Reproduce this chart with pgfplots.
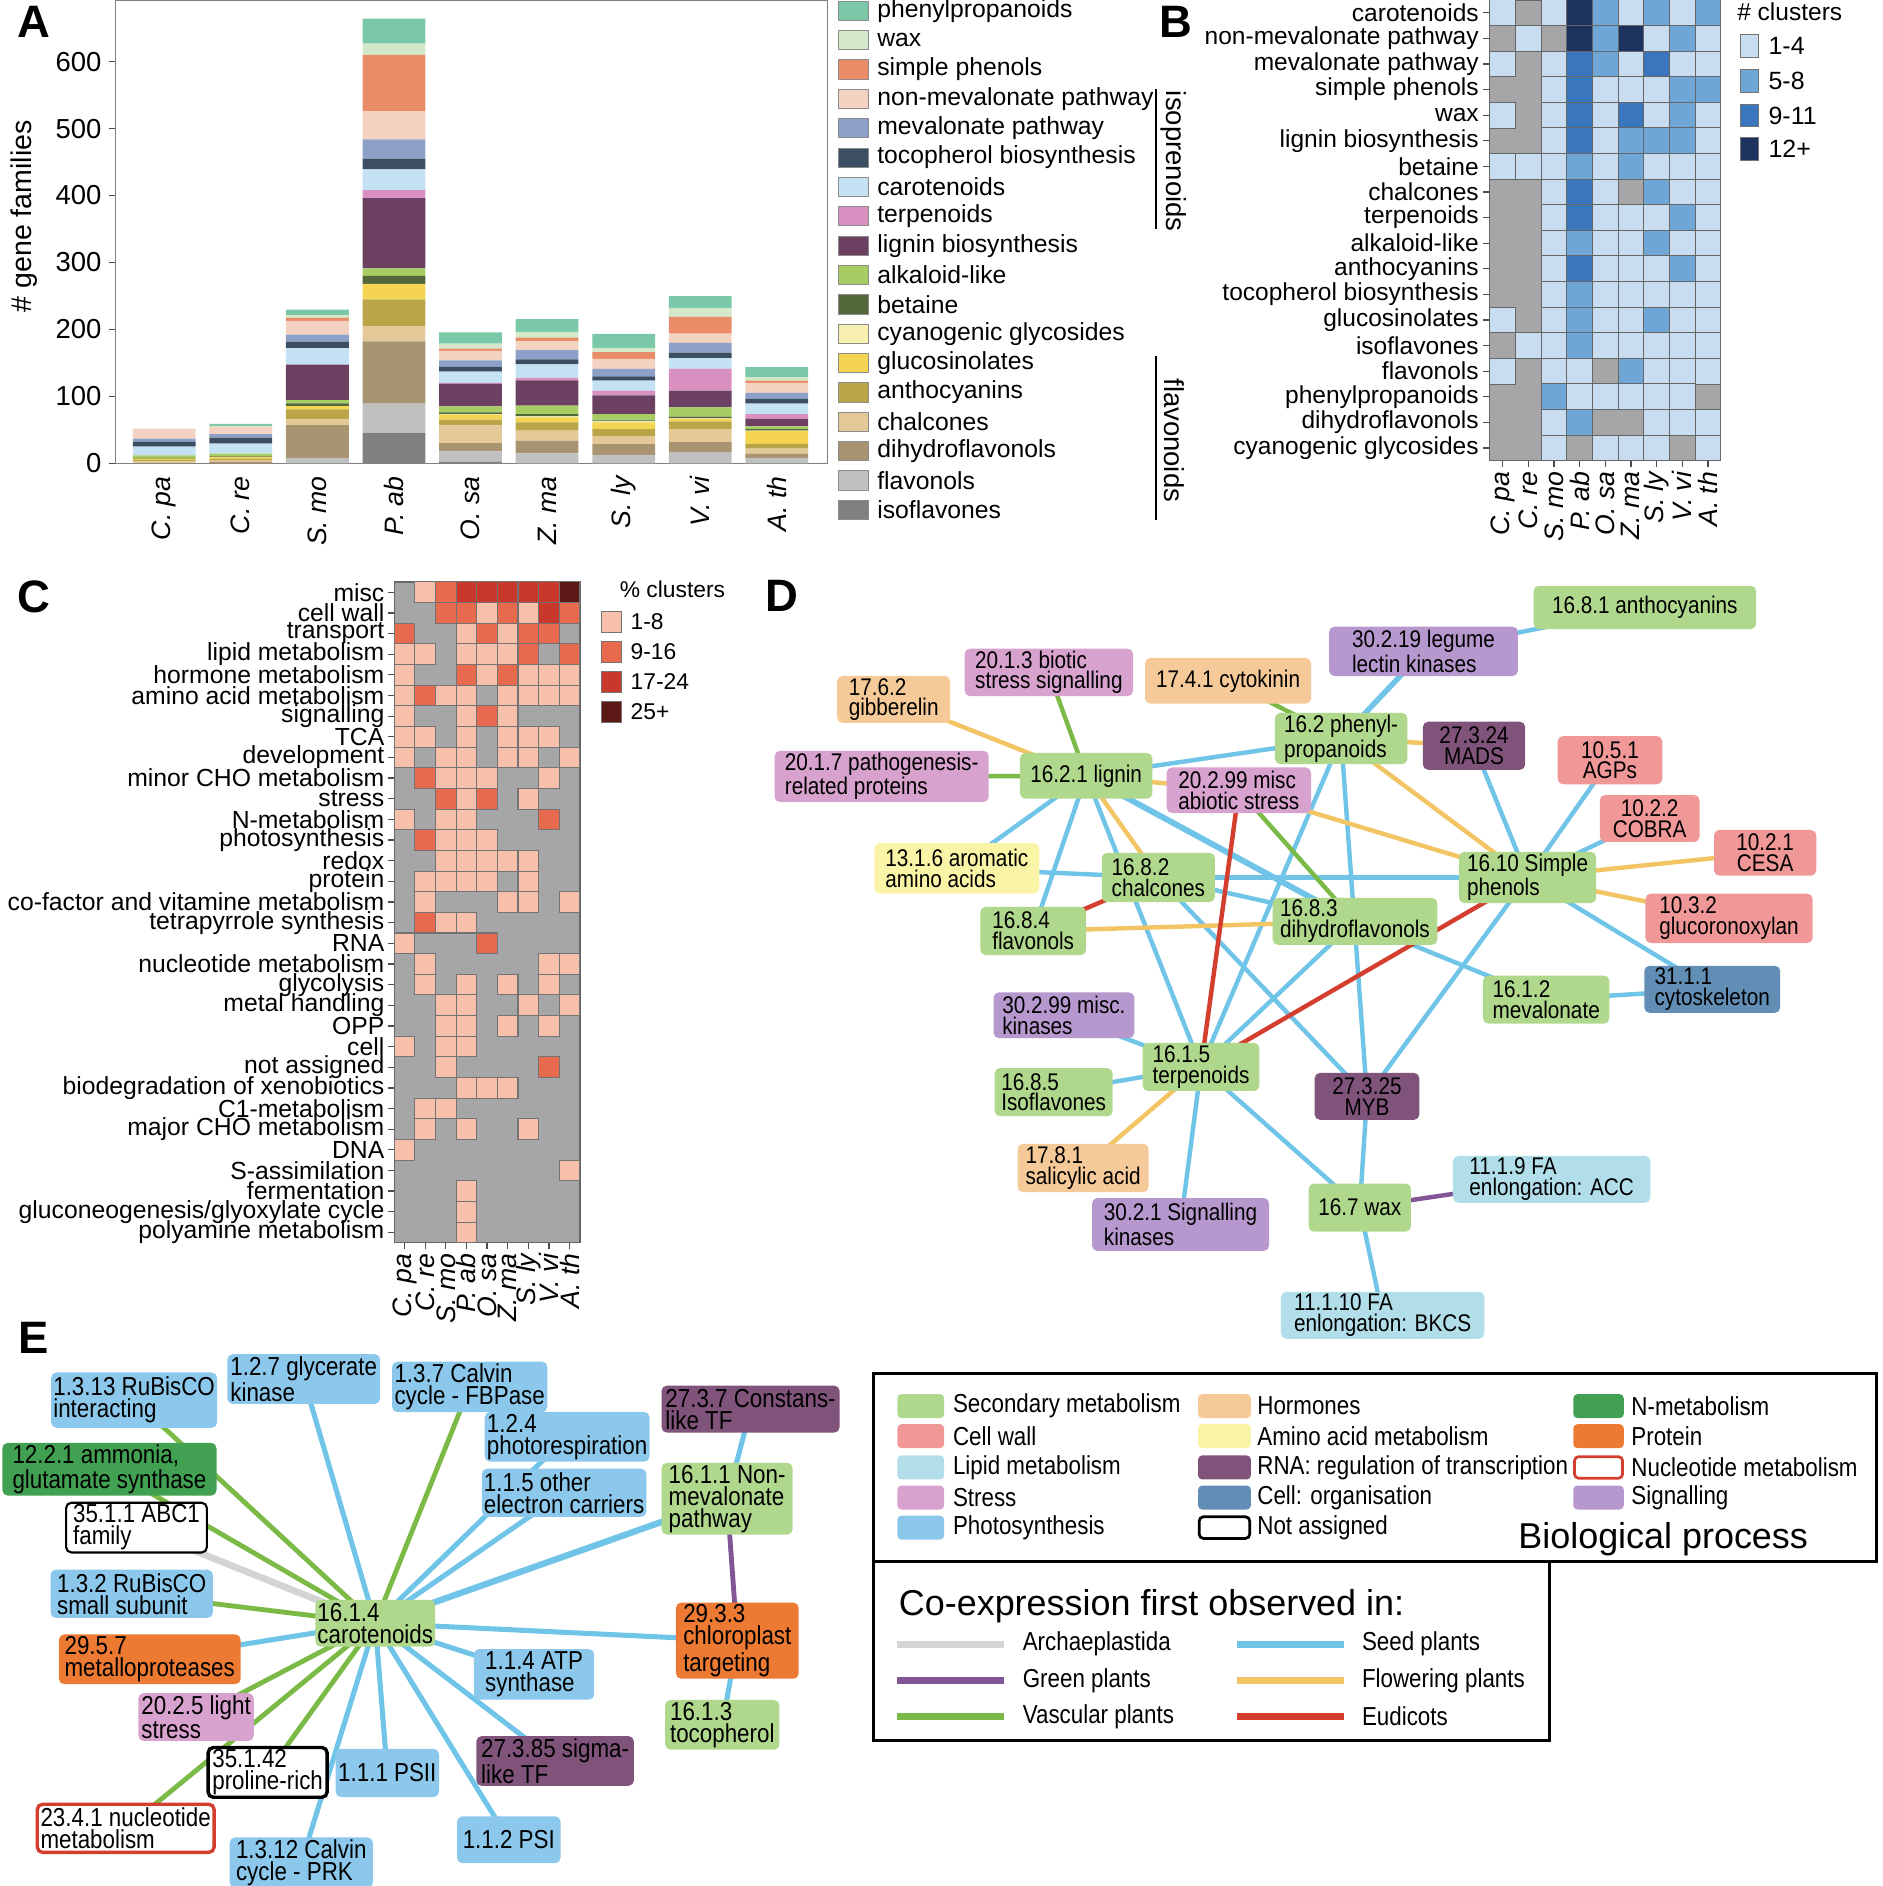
\documentclass[border=0pt]{standalone}
\usepackage{fontspec}
\setmainfont{Liberation Sans}
\newfontfamily\narrowf[FakeStretch=0.86]{Liberation Sans}
\usepackage{pgfplots}
\pgfplotsset{compat=1.18}
\newcommand\fsz[1]{\fontsize{#1}{#1}\selectfont}
% bar colours
\definecolor{cPhen}{RGB}{122,200,168}
\definecolor{cWax}{RGB}{210,232,200}
\definecolor{cSimp}{RGB}{234,140,104}
\definecolor{cNonm}{RGB}{244,210,194}
\definecolor{cMev}{RGB}{140,160,200}
\definecolor{cToco}{RGB}{62,78,98}
\definecolor{cCaro}{RGB}{196,226,244}
\definecolor{cTerp}{RGB}{216,144,192}
\definecolor{cLign}{RGB}{108,64,96}
\definecolor{cAlka}{RGB}{168,204,100}
\definecolor{cBeta}{RGB}{82,104,58}
\definecolor{cCyan}{RGB}{248,240,176}
\definecolor{cGluc}{RGB}{244,212,80}
\definecolor{cAnth}{RGB}{186,166,72}
\definecolor{cChal}{RGB}{228,200,152}
\definecolor{cDihy}{RGB}{168,148,112}
\definecolor{cFlav}{RGB}{192,192,192}
\definecolor{cIsof}{RGB}{128,128,128}
% heatmap colours
\definecolor{hg}{RGB}{166,166,168}
\definecolor{b1}{RGB}{200,221,240}
\definecolor{b2}{RGB}{110,166,214}
\definecolor{b3}{RGB}{58,118,190}
\definecolor{b4}{RGB}{30,50,96}
\definecolor{r1}{RGB}{247,192,170}
\definecolor{r2}{RGB}{232,106,78}
\definecolor{r3}{RGB}{200,56,44}
\definecolor{r4}{RGB}{92,24,20}
% node colours
\definecolor{nSec}{RGB}{176,216,140}
\definecolor{nCell}{RGB}{240,152,152}
\definecolor{nLip}{RGB}{178,222,234}
\definecolor{nStr}{RGB}{216,162,206}
\definecolor{nPho}{RGB}{140,200,236}
\definecolor{nHor}{RGB}{246,202,152}
\definecolor{nAmi}{RGB}{250,244,166}
\definecolor{nRNA}{RGB}{128,84,122}
\definecolor{nOrg}{RGB}{98,142,182}
\definecolor{nN}{RGB}{66,160,82}
\definecolor{nPro}{RGB}{236,122,50}
\definecolor{nSig}{RGB}{182,152,206}
% edge colours
\definecolor{eArc}{RGB}{212,212,212}
\definecolor{eGre}{RGB}{130,86,150}
\definecolor{eVas}{RGB}{124,186,72}
\definecolor{eSee}{RGB}{112,196,232}
\definecolor{eFlo}{RGB}{242,196,100}
\definecolor{eEud}{RGB}{212,62,46}
\tikzset{
  sz/.style 2 args={minimum width={#1*0.02cm}, minimum height={#2*0.02cm}},
  nd/.style={rounded corners=2.5pt, inner sep=1pt, align=left, font=\narrowf\fontsize{11.4}{9.8}\selectfont},
  ne/.style={rounded corners=2.5pt, inner sep=1pt, align=left, font=\narrowf\fontsize{12.3}{10.4}\selectfont},
  see/.style={eSee, line width=2.1pt},
  flo/.style={eFlo, line width=2.1pt},
  vas/.style={eVas, line width=2.1pt},
  eud/.style={eEud, line width=2.1pt},
  gre/.style={eGre, line width=2.1pt},
  arc/.style={eArc, line width=3.2pt},
  lgA/.style={anchor=west, inner sep=0pt, font=\fsz{11.7}},
  lg/.style={anchor=west, inner sep=0pt, font=\narrowf\fsz{12.3}},
  let/.style={font=\bfseries\fsz{21.5}, inner sep=0pt},
}
\begin{document}
\begin{tikzpicture}
\path[use as bounding box] (0,0) rectangle (31.3cm,-31.36cm);

%================ A: stacked bars
\begin{axis}[
  at={(1.916cm,-7.704cm)}, anchor=south west, scale only axis,
  width=11.848cm, height=7.704cm,
  ybar stacked, bar width=0.82,
  xmin=-0.64, xmax=8.666, ymin=0, ymax=692,
  xtick={0,...,8},
  xticklabels={{C. pa},{C. re},{S. mo},{P. ab},{O. sa},{Z. ma},{S. ly},{V. vi},{A. th}},
  xticklabel style={rotate=90, anchor=east, font=\fsz{12.6}\itshape, inner sep=3pt},
  x tick style={draw=none},
  ytick={0,100,...,600},
  yticklabel style={font=\fsz{13}},
  /pgf/number format/assume math mode=true,
  ytick pos=left, tick align=outside, major tick length=3pt,
  tick style={black!70, line width=0.6pt},
  axis line style={black!50, line width=0.6pt},
  ylabel={\# gene families},
  every axis y label/.style={at={(axis description cs:-0.128,0.533)}, rotate=90, anchor=center, font=\fsz{13.5}},
]
\addplot[fill=cIsof, draw=none] coordinates {(0,0)(1,0)(2,0)(3,45)(4,2)(5,0)(6,0)(7,0)(8,0)};
\addplot[fill=cFlav, draw=none] coordinates {(0,0)(1,0)(2,8)(3,44)(4,16)(5,15)(6,12.5)(7,16.6)(8,8)};
\addplot[fill=cDihy, draw=none] coordinates {(0,1)(1,2)(2,49)(3,93)(4,12)(5,19)(6,16)(7,15)(8,6)};
\addplot[fill=cChal, draw=none] coordinates {(0,2)(1,2)(2,8.5)(3,23)(4,26.6)(5,15)(6,11.5)(7,19.6)(8,8)};
\addplot[fill=cAnth, draw=none] coordinates {(0,2)(1,3)(2,15)(3,40)(4,8.5)(5,12)(6,11)(7,11.5)(8,7)};
\addplot[fill=cGluc, draw=none] coordinates {(0,2)(1,2.5)(2,5)(3,23)(4,7.5)(5,7.5)(6,10)(7,3.5)(8,19)};
\addplot[fill=cCyan, draw=none] coordinates {(0,0)(1,0)(2,0)(3,0)(4,1)(5,1.5)(6,1.5)(7,1)(8,1)};
\addplot[fill=cBeta, draw=none] coordinates {(0,1)(1,1)(2,4)(3,12)(4,2.5)(5,3.5)(6,1.5)(7,2.5)(8,2)};
\addplot[fill=cAlka, draw=none] coordinates {(0,4)(1,4)(2,5)(3,11)(4,9)(5,12.5)(6,9.5)(7,14)(8,4)};
\addplot[fill=cLign, draw=none] coordinates {(0,0)(1,0)(2,53)(3,105)(4,33.7)(5,37.7)(6,28)(7,25)(8,11.5)};
\addplot[fill=cTerp, draw=none] coordinates {(0,0)(1,0)(2,0)(3,12)(4,1.5)(5,4)(6,7)(7,32.6)(8,7)};
\addplot[fill=cCaro, draw=none] coordinates {(0,13)(1,15)(2,24.6)(3,31)(4,16.6)(5,20)(6,15)(7,16)(8,15.6)};
\addplot[fill=cToco, draw=none] coordinates {(0,7)(1,9)(2,9.5)(3,16)(4,7)(5,7.5)(6,6.5)(7,8)(8,7)};
\addplot[fill=cMev, draw=none] coordinates {(0,5)(1,5)(2,10.5)(3,29)(4,10)(5,14)(6,11)(7,14.5)(8,9)};
\addplot[fill=cNonm, draw=none] coordinates {(0,14)(1,11)(2,20.6)(3,42)(4,14)(5,13.5)(6,15)(7,14)(8,15)};
\addplot[fill=cSimp, draw=none] coordinates {(0,0)(1,0)(2,4.5)(3,84)(4,3.5)(5,5)(6,10)(7,25)(8,3.5)};
\addplot[fill=cWax, draw=none] coordinates {(0,1)(1,1.5)(2,4)(3,17)(4,7.5)(5,8.5)(6,6.5)(7,13.5)(8,5)};
\addplot[fill=cPhen, draw=none] coordinates {(0,0)(1,3)(2,8.5)(3,37)(4,16.6)(5,19)(6,21)(7,17.6)(8,15)};
\end{axis}

%================ B: heatmap
\begin{axis}[
  at={(24.77cm,0cm)}, anchor=north west, scale only axis,
  width=3.842cm, height=7.662cm,
  xmin=-0.5, xmax=8.5, ymin=-0.5, ymax=17.5, y dir=reverse,
  axis background/.style={fill=hg},
  xtick={0,...,8}, ytick={0,...,17},
  xticklabels={{C. pa},{C. re},{S. mo},{P. ab},{O. sa},{Z. ma},{S. ly},{V. vi},{A. th}},
  yticklabels={carotenoids,non-mevalonate pathway,mevalonate pathway,simple phenols,wax,lignin biosynthesis,betaine,chalcones,terpenoids,alkaloid-like,anthocyanins,tocopherol biosynthesis,glucosinolates,isoflavones,flavonols,phenylpropanoids,dihydroflavonols,cyanogenic glycosides},
  xticklabel style={rotate=90, anchor=east, font=\fsz{12.6}\itshape, inner sep=2pt},
  yticklabel style={font=\fsz{11.6}, inner sep=2pt},
  tick pos=left, tick align=outside, major tick length=3pt,
  tick style={black!70, line width=0.6pt},
  axis line style={black!60, line width=0.6pt},
]
\addplot[scatter, only marks, mark=square*, mark size=6.07pt, line width=0.5pt,
  point meta=explicit symbolic,
  scatter/classes={a={fill=b1, draw=black!60}, b={fill=b2, draw=black!60}, c={fill=b3, draw=black!60}, d={fill=b4, draw=black!60}}]
coordinates {
(0,0)[a] (2,0)[a] (3,0)[d] (4,0)[b] (5,0)[a] (6,0)[b] (7,0)[a] (8,0)[b]
(1,1)[a] (3,1)[d] (4,1)[b] (5,1)[d] (6,1)[a] (7,1)[b] (8,1)[a]
(0,2)[a] (2,2)[a] (3,2)[c] (4,2)[b] (5,2)[a] (6,2)[c] (7,2)[a] (8,2)[a]
(2,3)[a] (3,3)[c] (4,3)[a] (5,3)[a] (6,3)[a] (7,3)[b] (8,3)[b]
(0,4)[a] (2,4)[a] (3,4)[c] (4,4)[a] (5,4)[c] (6,4)[a] (7,4)[b] (8,4)[a]
(2,5)[a] (3,5)[c] (4,5)[a] (5,5)[b] (6,5)[b] (7,5)[b] (8,5)[a]
(0,6)[a] (1,6)[a] (2,6)[a] (3,6)[b] (4,6)[a] (5,6)[b] (6,6)[a] (7,6)[a] (8,6)[a]
(2,7)[a] (3,7)[c] (4,7)[a] (6,7)[b] (7,7)[a] (8,7)[a]
(2,8)[a] (3,8)[c] (4,8)[a] (5,8)[a] (6,8)[a] (7,8)[b] (8,8)[a]
(2,9)[a] (3,9)[b] (4,9)[a] (5,9)[a] (6,9)[b] (7,9)[a] (8,9)[a]
(2,10)[a] (3,10)[c] (4,10)[a] (5,10)[a] (6,10)[a] (7,10)[b] (8,10)[a]
(2,11)[a] (3,11)[b] (4,11)[a] (5,11)[a] (6,11)[a] (7,11)[a] (8,11)[a]
(0,12)[a] (2,12)[a] (3,12)[b] (4,12)[a] (5,12)[a] (6,12)[b] (7,12)[a] (8,12)[a]
(1,13)[a] (2,13)[a] (3,13)[b] (4,13)[a] (5,13)[a] (6,13)[a] (7,13)[a] (8,13)[a]
(0,14)[a] (2,14)[a] (3,14)[a] (5,14)[b] (6,14)[a] (7,14)[a] (8,14)[a]
(2,15)[b] (3,15)[a] (4,15)[a] (5,15)[a] (6,15)[a] (7,15)[a]
(2,16)[a] (3,16)[b] (6,16)[a] (7,16)[a] (8,16)[a]
(2,17)[a] (4,17)[a] (5,17)[a] (6,17)[a] (8,17)[a]
};
\end{axis}

%================ C: heatmap
\begin{axis}[
  at={(6.556cm,-9.676cm)}, anchor=north west, scale only axis,
  width=3.086cm, height=10.988cm,
  xmin=-0.5, xmax=8.5, ymin=-0.5, ymax=31.5, y dir=reverse,
  axis background/.style={fill=hg},
  xtick={0,...,8}, ytick={0,...,31},
  xticklabels={{C. pa},{C. re},{S. mo},{P. ab},{O. sa},{Z. ma},{S. ly},{V. vi},{A. th}},
  yticklabels={misc,cell wall,transport,lipid metabolism,hormone metabolism,amino acid metabolism,signalling,TCA,development,minor CHO metabolism,stress,N-metabolism,photosynthesis,redox,protein,co-factor and vitamine metabolism,tetrapyrrole synthesis,RNA,nucleotide metabolism,glycolysis,metal handling,OPP,cell,not assigned,biodegradation of xenobiotics,C1-metabolism,major CHO metabolism,DNA,S-assimilation,fermentation,gluconeogenesis/glyoxylate cycle,polyamine metabolism},
  xticklabel style={rotate=90, anchor=east, font=\fsz{12.6}\itshape, inner sep=2pt},
  yticklabel style={font=\fsz{11.7}, inner sep=1.5pt},
  tick pos=left, tick align=outside, major tick length=3pt,
  tick style={black!70, line width=0.6pt},
  axis line style={black!60, line width=0.6pt},
]
\addplot[scatter, only marks, mark=square*, mark size=4.88pt, line width=0.5pt,
  point meta=explicit symbolic,
  scatter/classes={a={fill=r1, draw=black!55}, b={fill=r2, draw=black!55}, c={fill=r3, draw=black!55}, d={fill=r4, draw=black!55}}]
coordinates {
(1,0)[a] (2,0)[b] (3,0)[c] (4,0)[c] (5,0)[c] (6,0)[c] (7,0)[c] (8,0)[d]
(2,1)[b] (3,1)[b] (4,1)[a] (5,1)[b] (6,1)[a] (7,1)[c] (8,1)[b]
(0,2)[b] (3,2)[a] (4,2)[b] (5,2)[a] (6,2)[b] (7,2)[b]
(0,3)[a] (1,3)[a] (3,3)[a] (4,3)[a] (5,3)[a] (6,3)[b] (8,3)[b]
(0,4)[a] (3,4)[b] (4,4)[a] (5,4)[b] (6,4)[a] (7,4)[a] (8,4)[a]
(0,5)[a] (1,5)[b] (2,5)[a] (3,5)[a] (5,5)[a] (6,5)[a] (7,5)[a] (8,5)[a]
(0,6)[a] (3,6)[a] (4,6)[b] (5,6)[a]
(0,7)[a] (1,7)[a] (3,7)[a] (5,7)[a] (6,7)[a] (7,7)[a]
(0,8)[a] (2,8)[a] (3,8)[a] (5,8)[a] (6,8)[a] (8,8)[a]
(1,9)[b] (2,9)[a] (3,9)[a] (4,9)[a] (7,9)[a]
(2,10)[b] (3,10)[a] (4,10)[b] (6,10)[a]
(0,11)[a] (2,11)[a] (3,11)[a] (7,11)[b]
(1,12)[b] (2,12)[a] (3,12)[a] (4,12)[a]
(2,13)[a] (3,13)[a] (4,13)[a] (5,13)[a] (6,13)[a]
(1,14)[a] (2,14)[a] (3,14)[a] (4,14)[a] (6,14)[a]
(1,15)[a] (5,15)[a] (6,15)[a] (8,15)[a]
(1,16)[b] (2,16)[a] (3,16)[a]
(0,17)[a] (4,17)[b]
(1,18)[a] (7,18)[a] (8,18)[a]
(1,19)[a] (3,19)[a] (5,19)[a] (7,19)[a]
(2,20)[a] (3,20)[a] (6,20)[a] (8,20)[a]
(2,21)[a] (3,21)[a] (5,21)[a] (7,21)[a]
(0,22)[a] (2,22)[a] (3,22)[a]
(2,23)[a] (7,23)[b]
(3,24)[a] (4,24)[a] (5,24)[a]
(1,25)[a] (2,25)[a]
(1,26)[a] (3,26)[a] (6,26)[a]
(0,27)[a]
(8,28)[a]
(3,29)[a]
(3,30)[a]
(3,31)[a]
};
\end{axis}

%================ overlay: legends, networks D and E
\begin{axis}[
  at={(0cm,0cm)}, anchor=north west, scale only axis,
  width=31.3cm, height=31.36cm,
  xmin=0, xmax=1565, ymin=0, ymax=1568, y dir=reverse,
  hide axis, clip=false,
]
% panel letters
\node[let] at (axis cs:28,18) {A};
\node[let] at (axis cs:978,18) {B};
\node[let] at (axis cs:28,496) {C};
\node[let] at (axis cs:650,495) {D};
\node[let] at (axis cs:28,1112) {E};

% legend A
\draw[fill=cPhen, draw=black!45, line width=0.4pt] (axis cs:697,1) rectangle (axis cs:722,17);
\node[lgA] at (axis cs:729,9) {phenylpropanoids};
\draw[fill=cWax, draw=black!45, line width=0.4pt] (axis cs:697,25.4) rectangle (axis cs:722,41.4);
\node[lgA] at (axis cs:729,33.4) {wax};
\draw[fill=cSimp, draw=black!45, line width=0.4pt] (axis cs:697,49.8) rectangle (axis cs:722,65.8);
\node[lgA] at (axis cs:729,57.8) {simple phenols};
\draw[fill=cNonm, draw=black!45, line width=0.4pt] (axis cs:697,74.2) rectangle (axis cs:722,90.2);
\node[lgA] at (axis cs:729,82.2) {non-mevalonate pathway};
\draw[fill=cMev, draw=black!45, line width=0.4pt] (axis cs:697,98.6) rectangle (axis cs:722,114.6);
\node[lgA] at (axis cs:729,106.6) {mevalonate pathway};
\draw[fill=cToco, draw=black!45, line width=0.4pt] (axis cs:697,123) rectangle (axis cs:722,139);
\node[lgA] at (axis cs:729,131) {tocopherol biosynthesis};
\draw[fill=cCaro, draw=black!45, line width=0.4pt] (axis cs:697,147.4) rectangle (axis cs:722,163.4);
\node[lgA] at (axis cs:729,155.4) {carotenoids};
\draw[fill=cTerp, draw=black!45, line width=0.4pt] (axis cs:697,171.8) rectangle (axis cs:722,187.8);
\node[lgA] at (axis cs:729,179.8) {terpenoids};
\draw[fill=cLign, draw=black!45, line width=0.4pt] (axis cs:697,196.2) rectangle (axis cs:722,212.2);
\node[lgA] at (axis cs:729,204.2) {lignin biosynthesis};
\draw[fill=cAlka, draw=black!45, line width=0.4pt] (axis cs:697,220.6) rectangle (axis cs:722,236.6);
\node[lgA] at (axis cs:729,228.6) {alkaloid-like};
\draw[fill=cBeta, draw=black!45, line width=0.4pt] (axis cs:697,245) rectangle (axis cs:722,261);
\node[lgA] at (axis cs:729,253) {betaine};
\draw[fill=cCyan, draw=black!45, line width=0.4pt] (axis cs:697,269.4) rectangle (axis cs:722,285.4);
\node[lgA] at (axis cs:729,277.4) {cyanogenic glycosides};
\draw[fill=cGluc, draw=black!45, line width=0.4pt] (axis cs:697,293.8) rectangle (axis cs:722,309.8);
\node[lgA] at (axis cs:729,301.8) {glucosinolates};
\draw[fill=cAnth, draw=black!45, line width=0.4pt] (axis cs:697,318.2) rectangle (axis cs:722,334.2);
\node[lgA] at (axis cs:729,326.2) {anthocyanins};
\draw[fill=cChal, draw=black!45, line width=0.4pt] (axis cs:697,342.6) rectangle (axis cs:722,358.6);
\node[lgA] at (axis cs:729,350.6) {chalcones};
\draw[fill=cDihy, draw=black!45, line width=0.4pt] (axis cs:697,367) rectangle (axis cs:722,383);
\node[lgA] at (axis cs:729,375) {dihydroflavonols};
\draw[fill=cFlav, draw=black!45, line width=0.4pt] (axis cs:697,391.4) rectangle (axis cs:722,407.4);
\node[lgA] at (axis cs:729,399.4) {flavonols};
\draw[fill=cIsof, draw=black!45, line width=0.4pt] (axis cs:697,415.8) rectangle (axis cs:722,431.8);
\node[lgA] at (axis cs:729,423.8) {isoflavones};
% brackets
\draw[line width=1.1pt] (axis cs:961,74) -- (axis cs:961,190);
\node[rotate=-90, font=\fsz{13}, inner sep=0pt] at (axis cs:976,134) {isoprenoids};
\draw[line width=1.1pt] (axis cs:961,296) -- (axis cs:961,432);
\node[rotate=-90, font=\fsz{13}, inner sep=0pt] at (axis cs:976,366) {flavonoids};

% legend B
\node[anchor=west, inner sep=0pt, font=\fsz{11.6}] at (axis cs:1444,10) {\# clusters};
\draw[fill=b1, draw=black!55, line width=0.5pt] (axis cs:1447,28.5) rectangle (axis cs:1462,47.5);
\node[anchor=west, inner sep=0pt, font=\fsz{11.8}] at (axis cs:1470,38) {1-4};
\draw[fill=b2, draw=black!55, line width=0.5pt] (axis cs:1447,57.5) rectangle (axis cs:1462,76.5);
\node[anchor=west, inner sep=0pt, font=\fsz{11.8}] at (axis cs:1470,67) {5-8};
\draw[fill=b3, draw=black!55, line width=0.5pt] (axis cs:1447,86.5) rectangle (axis cs:1462,105.5);
\node[anchor=west, inner sep=0pt, font=\fsz{11.8}] at (axis cs:1470,96) {9-11};
\draw[fill=b4, draw=black!55, line width=0.5pt] (axis cs:1447,114.5) rectangle (axis cs:1462,133.5);
\node[anchor=west, inner sep=0pt, font=\fsz{11.8}] at (axis cs:1470,124) {12+};

% legend C
\node[anchor=west, inner sep=0pt, font=\fsz{10.8}] at (axis cs:515,490) {\% clusters};
\draw[fill=r1, draw=black!55, line width=0.5pt] (axis cs:500,508.5) rectangle (axis cs:517,525.5);
\node[anchor=west, inner sep=0pt, font=\fsz{10.8}] at (axis cs:524,517) {1-8};
\draw[fill=r2, draw=black!55, line width=0.5pt] (axis cs:500,533.5) rectangle (axis cs:517,550.5);
\node[anchor=west, inner sep=0pt, font=\fsz{10.8}] at (axis cs:524,542) {9-16};
\draw[fill=r3, draw=black!55, line width=0.5pt] (axis cs:500,558.5) rectangle (axis cs:517,575.5);
\node[anchor=west, inner sep=0pt, font=\fsz{10.8}] at (axis cs:524,567) {17-24};
\draw[fill=r4, draw=black!55, line width=0.5pt] (axis cs:500,583.5) rectangle (axis cs:517,600.5);
\node[anchor=west, inner sep=0pt, font=\fsz{10.8}] at (axis cs:524,592) {25+};

%---------------- D edges
\addplot[see] coordinates {(1367.5,505) (1183.5,541.5)};
\addplot[see, line width=2.6pt] coordinates {(1183.5,541.5) (1115,614)};
\addplot[see] coordinates {(903,645) (1115,614)};
\addplot[see] coordinates {(1115,614) (998.5,887)};
\addplot[see] coordinates {(1115,614) (1136.5,911.5)};
\addplot[see] coordinates {(1225.5,620) (1270,729.5)};
\addplot[see] coordinates {(1338.5,632) (1270,729.5)};
\addplot[see] coordinates {(1371.5,680.5) (1270,729.5)};
\addplot[see] coordinates {(1423.5,822.5) (1270,729.5)};
\addplot[see] coordinates {(1423.5,822.5) (1285.5,831)};
\addplot[see] coordinates {(903,645) (795.5,722)};
\addplot[see] coordinates {(903,645) (859,774)};
\addplot[see] coordinates {(903,645) (998.5,887)};
\addplot[see, line width=2.8pt] coordinates {(903,645) (1126.5,766)};
\addplot[see] coordinates {(795.5,722) (963,729.5)};
\addplot[see] coordinates {(963,729.5) (1270,729.5)};
\addplot[see] coordinates {(963,729.5) (1126.5,766)};
\addplot[see] coordinates {(963,729.5) (1136.5,911.5)};
\addplot[see] coordinates {(1126.5,766) (998.5,887)};
\addplot[see] coordinates {(1126.5,766) (1285.5,831)};
\addplot[see] coordinates {(1270,729.5) (1136.5,911.5)};
\addplot[see] coordinates {(884.5,844) (998.5,887)};
\addplot[see] coordinates {(876,908) (998.5,887)};
\addplot[see] coordinates {(981.5,1018) (998.5,887)};
\addplot[see] coordinates {(998.5,887) (1130.5,1004)};
\addplot[see] coordinates {(1136.5,911.5) (1130.5,1004)};
\addplot[see] coordinates {(1130.5,1004) (1149.5,1093.5)};
\addplot[flo] coordinates {(743,581.5) (903,645)};
\addplot[flo] coordinates {(903,645) (1030,657)};
\addplot[flo] coordinates {(1115,614) (1225.5,620)};
\addplot[flo] coordinates {(1115,614) (1270,729.5)};
\addplot[flo] coordinates {(1467.5,709) (1270,729.5)};
\addplot[flo] coordinates {(1437.5,763.5) (1270,729.5)};
\addplot[flo] coordinates {(1030,657) (1270,729.5)};
\addplot[flo] coordinates {(903,645) (963,729.5)};
\addplot[flo] coordinates {(859,774) (1126.5,766)};
\addplot[flo] coordinates {(900.5,971) (998.5,887)};
\addplot[vas] coordinates {(1021,566) (1115,614)};
\addplot[vas] coordinates {(872,559) (903,645)};
\addplot[vas] coordinates {(733,645.5) (903,645)};
\addplot[vas] coordinates {(1030,657) (1126.5,766)};
\addplot[eud] coordinates {(1030,657) (998.5,887)};
\addplot[eud] coordinates {(859,774) (963,729.5)};
\addplot[eud] coordinates {(1270,729.5) (998.5,887)};
\addplot[gre] coordinates {(1130.5,1004) (1290,980.5)};

%---------------- D nodes
\node[nd, sz={185}{36}, fill=nSec] at (axis cs:1367.5,505) {16.8.1 anthocyanins};
\node[nd, sz={157}{41}, fill=nSig] at (axis cs:1183.5,541.5) {30.2.19 legume\\lectin kinases};
\node[nd, sz={140}{38}, fill=nStr] at (axis cs:872,559) {20.1.3 biotic\\stress signalling};
\node[nd, sz={138}{38}, fill=nHor] at (axis cs:1021,566) {17.4.1 cytokinin};
\node[nd, sz={94}{39}, fill=nHor] at (axis cs:743,581.5) {17.6.2\\gibberelin};
\node[nd, sz={110}{38}, fill=nSec] at (axis cs:1115,614) {16.2 phenyl-\\propanoids};
\node[nd, sz={85}{40}, fill=nRNA, align=center] at (axis cs:1225.5,620) {27.3.24\\MADS};
\node[nd, sz={178}{37}, fill=nStr] at (axis cs:733,645.5) {20.1.7 pathogenesis-\\related proteins};
\node[nd, sz={110}{38}, fill=nSec] at (axis cs:903,645) {16.2.1 lignin};
\node[nd, sz={120}{38}, fill=nStr] at (axis cs:1030,657) {20.2.99 misc\\abiotic stress};
\node[nd, sz={87}{40}, fill=nCell, align=center] at (axis cs:1338.5,632) {10.5.1\\AGPs};
\node[nd, sz={83}{39}, fill=nCell, align=center] at (axis cs:1371.5,680.5) {10.2.2\\COBRA};
\node[nd, sz={85}{38}, fill=nCell, align=center] at (axis cs:1467.5,709) {10.2.1\\CESA};
\node[nd, sz={137}{42}, fill=nAmi] at (axis cs:795.5,722) {13.1.6 aromatic\\amino acids};
\node[nd, sz={94}{41}, fill=nSec] at (axis cs:963,729.5) {16.8.2\\chalcones};
\node[nd, sz={114}{41}, fill=nSec] at (axis cs:1270,729.5) {16.10 Simple\\phenols};
\node[nd, sz={88}{40}, fill=nSec] at (axis cs:859,774) {16.8.4\\flavonols};
\node[nd, sz={137}{38}, fill=nSec] at (axis cs:1126.5,766) {16.8.3\\dihydroflavonols};
\node[nd, sz={139}{41}, fill=nCell] at (axis cs:1437.5,763.5) {10.3.2\\glucoronoxylan};
\node[nd, sz={105}{40}, fill=nSec] at (axis cs:1285.5,831) {16.1.2\\mevalonate};
\node[nd, sz={113}{39}, fill=nOrg] at (axis cs:1423.5,822.5) {31.1.1\\cytoskeleton};
\node[nd, sz={117}{38}, fill=nSig] at (axis cs:884.5,844) {30.2.99 misc.\\kinases};
\node[nd, sz={97}{40}, fill=nSec] at (axis cs:998.5,887) {16.1.5\\terpenoids};
\node[nd, sz={98}{40}, fill=nSec] at (axis cs:876,908) {16.8.5\\Isoflavones};
\node[nd, sz={87}{39}, fill=nRNA, align=center] at (axis cs:1136.5,911.5) {27.3.25\\MYB};
\node[nd, sz={109}{40}, fill=nHor] at (axis cs:900.5,971) {17.8.1\\salicylic acid};
\node[nd, sz={164}{39}, fill=nLip] at (axis cs:1290,980.5) {11.1.9 FA\\enlongation: ACC};
\node[nd, sz={85}{40}, fill=nSec] at (axis cs:1130.5,1004) {16.7 wax};
\node[nd, sz={147}{44}, fill=nSig] at (axis cs:981.5,1018) {30.2.1 Signalling\\kinases};
\node[nd, sz={169}{39}, fill=nLip] at (axis cs:1149.5,1093.5) {11.1.10 FA\\enlongation: BKCS};

%---------------- E edges
\addplot[vas, line width=2.3pt] coordinates {(312,1349.5) (111.5,1164)};
\addplot[vas, line width=2.3pt] coordinates {(312,1349.5) (390.5,1153)};
\addplot[vas, line width=2.3pt] coordinates {(312,1349.5) (91,1221.5)};
\addplot[vas, line width=2.3pt] coordinates {(312,1349.5) (109.5,1325)};
\addplot[vas, line width=2.3pt] coordinates {(312,1349.5) (163,1427.5)};
\addplot[vas, line width=2.3pt] coordinates {(312,1349.5) (222.5,1473.5)};
\addplot[vas, line width=2.3pt] coordinates {(312,1349.5) (104.5,1520)};
\addplot[arc] coordinates {(312,1349.5) (113.5,1270)};
\addplot[see, line width=2.4pt] coordinates {(312,1349.5) (252.5,1146.5)};
\addplot[see, line width=2.4pt] coordinates {(312,1349.5) (471.5,1194.5)};
\addplot[see, line width=2.4pt] coordinates {(312,1349.5) (469,1241)};
\addplot[see, line width=3pt] coordinates {(312,1349.5) (604.5,1246)};
\addplot[see, line width=2.4pt] coordinates {(312,1349.5) (613,1364)};
\addplot[see, line width=2.4pt] coordinates {(312,1349.5) (124.5,1379.5)};
\addplot[see, line width=2.4pt] coordinates {(312,1349.5) (444,1392)};
\addplot[see, line width=2.4pt] coordinates {(312,1349.5) (322,1474)};
\addplot[see, line width=2.4pt] coordinates {(312,1349.5) (461.5,1464)};
\addplot[see, line width=2.4pt] coordinates {(312,1349.5) (423,1529.5)};
\addplot[see, line width=2.4pt] coordinates {(312,1349.5) (250.5,1548.5)};
\addplot[see, line width=2.4pt] coordinates {(624,1171.5) (604.5,1246)};
\addplot[see, line width=2.4pt] coordinates {(613,1364) (600.5,1434)};
\addplot[gre, line width=2.3pt] coordinates {(604.5,1246) (613,1364)};

%---------------- E nodes
\node[ne, sz={137}{46}, fill=nPho] at (axis cs:111.5,1164) {1.3.13 RuBisCO\\interacting};
\node[ne, sz={127}{39}, fill=nPho] at (axis cs:252.5,1146.5) {1.2.7 glycerate\\kinase};
\node[ne, sz={129}{40}, fill=nPho] at (axis cs:390.5,1153) {1.3.7 Calvin\\cycle - FBPase};
\node[ne, sz={148}{39}, fill=nRNA] at (axis cs:624,1171.5) {27.3.7 Constans-\\like TF};
\node[ne, sz={137}{41}, fill=nPho] at (axis cs:471.5,1194.5) {1.2.4\\photorespiration};
\node[ne, sz={178}{39}, fill=nN] at (axis cs:91,1221.5) {12.2.1 ammonia,\\glutamate synthase};
\node[ne, sz={109}{54}, fill=nSec] at (axis cs:604.5,1246) {16.1.1 Non-\\mevalonate\\pathway};
\node[ne, sz={136}{40}, fill=nPho] at (axis cs:469,1241) {1.1.5 other\\electron carriers};
\node[ne, sz={117}{40}, fill=white, draw=black, line width=1pt] at (axis cs:113.5,1270) {35.1.1 ABC1\\family};
\node[ne, sz={135}{40}, fill=nPho] at (axis cs:109.5,1325) {1.3.2 RuBisCO\\small subunit};
\node[ne, sz={86}{39}, fill=nSec] at (axis cs:312,1349.5) {16.1.4\\carotenoids};
\node[ne, sz={102}{56}, fill=nPro] at (axis cs:613,1364) {29.3.3\\chloroplast\\targeting};
\node[ne, sz={151}{39}, fill=nPro] at (axis cs:124.5,1379.5) {29.5.7\\metalloproteases};
\node[ne, sz={100}{42}, fill=nPho] at (axis cs:444,1392) {1.1.4 ATP\\synthase};
\node[ne, sz={95}{40}, fill=nSec] at (axis cs:600.5,1434) {16.1.3\\tocopherol};
\node[ne, sz={96}{39}, fill=nStr] at (axis cs:163,1427.5) {20.2.5 light\\stress};
\node[ne, sz={99}{41}, fill=white, draw=black, line width=1.6pt] at (axis cs:222.5,1473.5) {35.1.42\\proline-rich};
\node[ne, sz={86}{40}, fill=nPho] at (axis cs:322,1474) {1.1.1 PSII};
\node[ne, sz={131}{40}, fill=nRNA] at (axis cs:461.5,1464) {27.3.85 sigma-\\like TF};
\node[ne, sz={147}{40}, fill=white, draw=eEud, line width=1.6pt] at (axis cs:104.5,1520) {23.4.1 nucleotide\\metabolism};
\node[ne, sz={86}{39}, fill=nPho] at (axis cs:423,1529.5) {1.1.2 PSI};
\node[ne, sz={119}{39}, fill=nPho] at (axis cs:250.5,1548.5) {1.3.12 Calvin\\cycle - PRK};

%---------------- legends bottom right
\draw[line width=1.4pt] (axis cs:726,1142) rectangle (axis cs:1560,1298);
\draw[line width=1.4pt] (axis cs:726,1298) rectangle (axis cs:1288,1447);
% col 1
\fill[nSec, rounded corners=2pt] (axis cs:746,1159) rectangle (axis cs:785,1179);
\node[lg] at (axis cs:792,1169) {Secondary metabolism};
\fill[nCell, rounded corners=2pt] (axis cs:746,1184) rectangle (axis cs:785,1204);
\node[lg] at (axis cs:792,1194) {Cell wall};
\fill[nLip, rounded corners=2pt] (axis cs:746,1210) rectangle (axis cs:785,1230);
\node[lg] at (axis cs:792,1220) {Lipid metabolism};
\fill[nStr, rounded corners=2pt] (axis cs:746,1235) rectangle (axis cs:785,1255);
\node[lg] at (axis cs:792,1245) {Stress};
\fill[nPho, rounded corners=2pt] (axis cs:746,1260) rectangle (axis cs:785,1280);
\node[lg] at (axis cs:792,1270) {Photosynthesis};
% col 2
\fill[nHor, rounded corners=2pt] (axis cs:996,1159) rectangle (axis cs:1040,1179);
\node[lg] at (axis cs:1045,1169) {Hormones};
\fill[nAmi, rounded corners=2pt] (axis cs:996,1184) rectangle (axis cs:1040,1204);
\node[lg] at (axis cs:1045,1194) {Amino acid metabolism};
\fill[nRNA, rounded corners=2pt] (axis cs:996,1210) rectangle (axis cs:1040,1230);
\node[lg] at (axis cs:1045,1220) {RNA: regulation of transcription};
\fill[nOrg, rounded corners=2pt] (axis cs:996,1235) rectangle (axis cs:1040,1255);
\node[lg] at (axis cs:1045,1245) {Cell: organisation};
\draw[black, line width=1.3pt, rounded corners=2pt, fill=white] (axis cs:997,1261) rectangle (axis cs:1039,1279);
\node[lg] at (axis cs:1045,1270) {Not assigned};
% col 3
\fill[nN, rounded corners=2pt] (axis cs:1308,1159) rectangle (axis cs:1350,1179);
\node[lg] at (axis cs:1356,1169) {N-metabolism};
\fill[nPro, rounded corners=2pt] (axis cs:1308,1184) rectangle (axis cs:1350,1204);
\node[lg] at (axis cs:1356,1194) {Protein};
\draw[eEud, line width=1.3pt, rounded corners=2pt, fill=white] (axis cs:1309,1211) rectangle (axis cs:1349,1229);
\node[lg] at (axis cs:1356,1220) {Nucleotide metabolism};
\fill[nSig, rounded corners=2pt] (axis cs:1308,1235) rectangle (axis cs:1350,1255);
\node[lg] at (axis cs:1356,1245) {Signalling};
\node[anchor=west, inner sep=0pt, font=\fsz{17}] at (axis cs:1262,1280) {Biological process};
% co-expression
\node[anchor=west, inner sep=0pt, font=\fsz{17}] at (axis cs:747,1335) {Co-expression first observed in:};
\draw[eArc, line width=3.4pt] (axis cs:746,1367) -- (axis cs:835,1367);
\node[lg] at (axis cs:850,1367) {Archaeplastida};
\draw[eGre, line width=3.4pt] (axis cs:746,1397) -- (axis cs:835,1397);
\node[lg] at (axis cs:850,1397) {Green plants};
\draw[eVas, line width=3.4pt] (axis cs:746,1427) -- (axis cs:835,1427);
\node[lg] at (axis cs:850,1427) {Vascular plants};
\draw[eSee, line width=3.4pt] (axis cs:1028,1367) -- (axis cs:1117,1367);
\node[lg] at (axis cs:1132,1367) {Seed plants};
\draw[eFlo, line width=3.4pt] (axis cs:1028,1397) -- (axis cs:1117,1397);
\node[lg] at (axis cs:1132,1397) {Flowering plants};
\draw[eEud, line width=3.4pt] (axis cs:1028,1427) -- (axis cs:1117,1427);
\node[lg] at (axis cs:1132,1427) {Eudicots};
\end{axis}
\end{tikzpicture}
\end{document}
